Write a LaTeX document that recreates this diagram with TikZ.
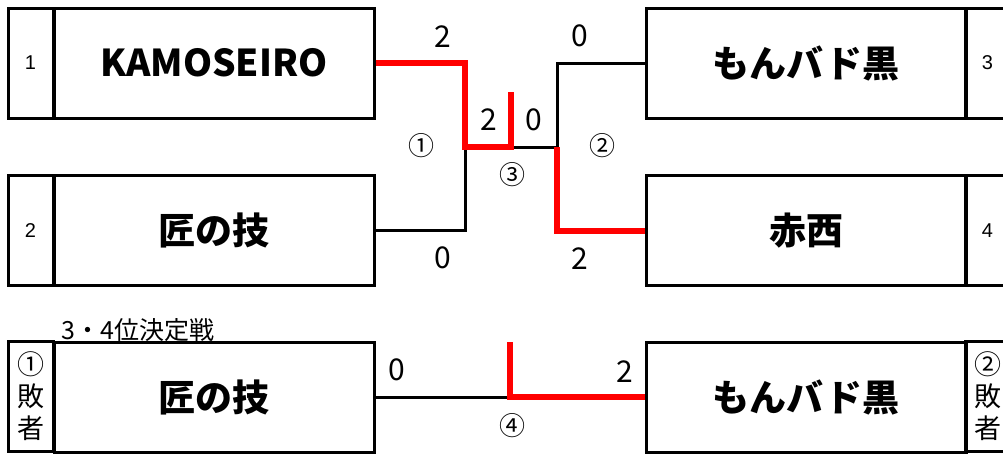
\documentclass[tikz,border=0pt]{standalone}
\usepackage{fontspec}
\setmainfont{Noto Sans CJK JP}
\newfontfamily\seedfont{Liberation Sans}
\usepackage{tikz}
\usetikzlibrary{calc}

\begin{document}
\begin{tikzpicture}[x=1pt, y=-1pt,
  team/.style={draw, line width=3pt, minimum width=320pt, minimum height=110pt,
    inner sep=0pt, font=\fontsize{37}{44}\selectfont\bfseries},
  seed/.style={draw, line width=3pt, minimum width=45pt, minimum height=110pt,
    inner sep=0pt, font=\seedfont\fontsize{20}{24}\selectfont},
  loser/.style={seed, align=center, font=\fontsize{27}{32}\selectfont},
  score/.style={font=\fontsize{30}{34}\selectfont},
  mno/.style={font=\fontsize{26}{30}\selectfont},
  lose/.style={line width=3pt},
  win/.style={red, line width=6pt},
]
\clip (0,0) rectangle (1003,453);

% semifinal and final
\node[seed] (s1) at (30.5,63) {1};
\node[team] (t1) at (214,63) {KAMOSEIRO};
\node[seed] (s2) at (30.5,230.5) {2};
\node[team] (t2) at (214,230.5) {匠の技};
\node[team] (t3) at (806,63) {もんバド黒};
\node[seed] (s3) at (987.5,63) {3};
\node[team] (t4) at (806,230.5) {赤西};
\node[seed] (s4) at (987.5,230.5) {4};

\coordinate (j1) at (465,147);
\coordinate (j2) at (557,147);
\coordinate (champ) at (511,92);

\draw[lose] (t2.east) -| (j1);
\draw[lose] (t3.west) -| (j2);
\draw[lose] (j1) -- (j2);
\draw[win] (t1.east) -| (j1) -| (champ);
\draw[win] (t4.west) -| (j2);

\node[score] (m1a) at (443,37) {2};
\node[score] (m1b) at (443,258) {0};
\node[score] (m2a) at (580,36) {0};
\node[score] (m2b) at (580,259) {2};
\node[score] (m3a) at (489,120) {2};
\node[score] (m3b) at (534,120) {0};
\node[mno] (no1) at (421,146) {①};
\node[mno] (no2) at (602,146) {②};
\node[mno] (no3) at (512,175) {③};

% third place
\node[anchor=west, font=\fontsize{25}{28}\selectfont] (title) at (58,330) {3・4位決定戦};
\node[loser] (l1) at (30.5,396) {①\\敗\\者};
\node[team] (b1) at (214,397) {匠の技};
\node[team] (b2) at (806,397) {もんバド黒};
\node[loser] (l2) at (987.5,396) {②\\敗\\者};

\coordinate (j4) at (510,397);
\coordinate (bronze) at (510,342);

\draw[lose] (b1.east) -- (j4);
\draw[win] (b2.west) -| (bronze);

\node[score] (m4a) at (397,370) {0};
\node[score] (m4b) at (625,372) {2};
\node[mno] (no4) at (512,426) {④};
\end{tikzpicture}
\end{document}
